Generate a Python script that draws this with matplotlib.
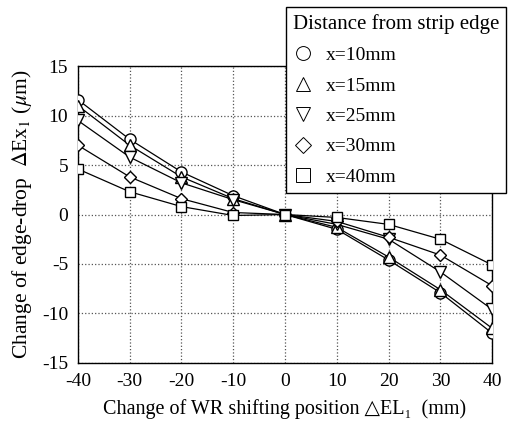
import numpy as np
import matplotlib.pyplot as plt

plt.rcParams['font.family'] = ['Liberation Serif', 'DejaVu Serif', 'DejaVu Sans']
plt.rcParams['mathtext.fontset'] = 'stix'

shift = [-40, -30, -20, -10, 0, 10, 20, 30, 40]
x10 = [11.6, 7.6, 4.3, 1.9, 0, -1.5, -4.6, -7.9, -12.0]
x15 = [11.0, 7.0, 3.8, 1.6, 0, -1.3, -4.3, -7.6, -11.5]
x25 = [9.5, 5.8, 3.2, 1.5, 0, -1.0, -2.5, -5.8, -9.6]
x30 = [7.0, 3.8, 1.6, 0.2, 0, -0.7, -2.3, -4.1, -7.2]
x40 = [4.6, 2.3, 0.8, -0.1, 0, -0.3, -1.0, -2.5, -5.1]

series = [x10, x15, x25, x30, x40]
labels = ['x=10mm', 'x=15mm', 'x=25mm', 'x=30mm', 'x=40mm']
markers = ['o', '^', 'v', 'D', 's']
msizes = [8, 8, 8, 6.5, 7.5]

fig = plt.figure(figsize=(5.09, 4.29), dpi=100)
ax = fig.add_axes([0.153, 0.154, 0.814, 0.692])

handles = []
for ys, lab, m, ms in zip(series, labels, markers, msizes):
    ax.plot(shift, ys, color='black', lw=0.9, zorder=3)
    ax.plot(shift, ys, ls='none', marker=m, ms=ms, mfc='white', mec='black',
            mew=1.0, zorder=4)
    h, = ax.plot([], [], ls='none', marker=m, ms=ms + 2, mfc='white',
                 mec='black', mew=0.7, label=lab)
    handles.append(h)

ax.set_xlim(-40, 40)
ax.set_ylim(-15, 15)
ax.set_xticks(range(-40, 41, 10))
ax.set_yticks(range(-15, 16, 5))
ax.set_xticklabels(['-40', '-30', '-20', '-10', '0', '10', '20', '30', '40'])
ax.set_yticklabels(['-15', '-10', '-5', '0', '5', '10', '15'])
ax.tick_params(length=0, labelsize=14, pad=7)
ax.grid(True, ls=':', color='#555555', lw=0.9)
for s in ax.spines.values():
    s.set_linewidth(1.0)

ax.set_xlabel('Change of WR shifting position \u25b3EL\u2081  (mm)',
              fontsize=14.5, labelpad=7)
ax.set_ylabel('Change of edge-drop  $\\Delta$Ex$_1$ ($\\mu$m)', fontsize=15.5,
              labelpad=6)

leg = fig.legend(handles=handles, title='Distance from strip edge',
                 loc='upper left', bbox_to_anchor=(286 / 509, 1 - 7 / 429),
                 fontsize=14, title_fontsize=15, frameon=True, fancybox=False,
                 framealpha=1, edgecolor='black', borderpad=0.35,
                 labelspacing=0.66, handlelength=1.0, handletextpad=0.7,
                 borderaxespad=0, alignment='left')
leg.get_frame().set_linewidth(1.0)
leg.set_zorder(10)

fig.savefig('out.png', dpi=100)
